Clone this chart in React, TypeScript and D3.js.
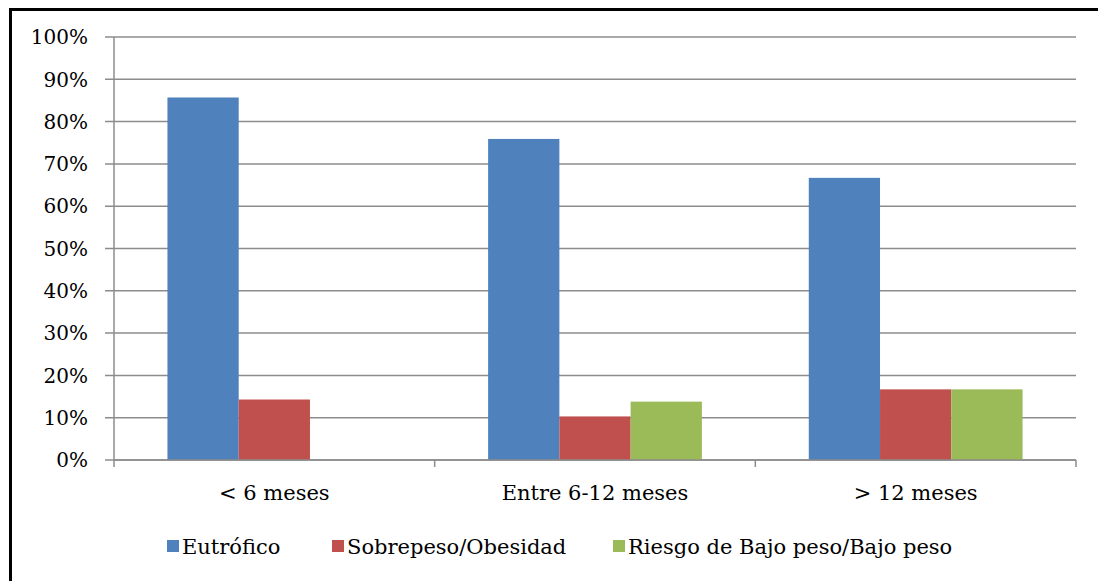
import React from "react";
import * as d3 from "d3";

const categories = ["< 6 meses", "Entre 6-12 meses", "> 12 meses"];
const seriesNames = ["Eutrófico", "Sobrepeso/Obesidad", "Riesgo de Bajo peso/Bajo peso"];
const eutrofico = [85.7, 75.9, 66.7];
const sobrepeso = [14.3, 10.3, 16.7];
const riesgo = [0, 13.8, 16.7];
const yTicks = [0, 10, 20, 30, 40, 50, 60, 70, 80, 90, 100];
const colors = ["#4F81BD", "#C0504D", "#9BBB59"];

const W = 1098;
const H = 581;
const left = 114;
const right = 1076;
const top = 37;
const bottom = 460;
const FONT = "'DejaVu Serif', serif";

export default function App() {
  const series = [eutrofico, sobrepeso, riesgo];
  const x = d3.scaleBand<string>().domain(categories).range([left, right]).paddingInner(0).paddingOuter(0);
  const y = d3.scaleLinear().domain([0, 100]).range([bottom, top]);
  const bw = x.bandwidth() / 4.5;
  const xs = d3.scaleBand<number>().domain([0, 1, 2]).range([0, bw * 3]);
  const legendTextX = [182, 347, 628];

  return (
    <svg width={W} height={H} style={{ position: "absolute", left: 0, top: 0, background: "#fff" }}>
      <rect x={0} y={0} width={W} height={H} fill="#fff" />
      <line x1={10.5} x2={10.5} y1={8} y2={H} stroke="#000" strokeWidth={3} />
      <line x1={9} x2={W} y1={9.5} y2={9.5} stroke="#000" strokeWidth={3} />
      {yTicks.map((t) => (
        <g key={t}>
          <line x1={left - 9} x2={right} y1={y(t)} y2={y(t)} stroke="#8C8C8C" strokeWidth={1.5} />
          <text x={88} y={y(t)} dy="0.36em" textAnchor="end" style={{ fontFamily: FONT, fontSize: "20px" }} fill="#000">
            {t}%
          </text>
        </g>
      ))}
      {categories.map((c, ci) => (
        <g key={c} transform={`translate(${(x(c) ?? 0) + bw * 0.75},0)`}>
          {series.map((s, si) =>
            s[ci] > 0 ? (
              <rect
                key={si}
                x={xs(si)}
                y={y(s[ci])}
                width={xs.bandwidth()}
                height={bottom - y(s[ci])}
                fill={colors[si]}
              />
            ) : null
          )}
        </g>
      ))}
      <line x1={left} x2={left} y1={top} y2={bottom} stroke="#8C8C8C" strokeWidth={1.5} />
      <line x1={left} x2={right} y1={bottom} y2={bottom} stroke="#8C8C8C" strokeWidth={1.5} />
      {[...categories.map((c) => x(c) ?? 0), right].map((px, i) => (
        <line key={i} x1={px} x2={px} y1={bottom} y2={bottom + 7} stroke="#8C8C8C" strokeWidth={1.5} />
      ))}
      {categories.map((c) => (
        <text
          key={c}
          x={(x(c) ?? 0) + x.bandwidth() / 2}
          y={492}
          dy="0.36em"
          textAnchor="middle"
          style={{ fontFamily: FONT, fontSize: "21px" }}
          fill="#000"
        >
          {c}
        </text>
      ))}
      {seriesNames.map((n, i) => (
        <g key={n}>
          <rect x={legendTextX[i] - 15} y={540} width={12} height={12} fill={colors[i]} />
          <text x={legendTextX[i]} y={546} dy="0.36em" style={{ fontFamily: FONT, fontSize: "21px" }} fill="#000">
            {n}
          </text>
        </g>
      ))}
    </svg>
  );
}
